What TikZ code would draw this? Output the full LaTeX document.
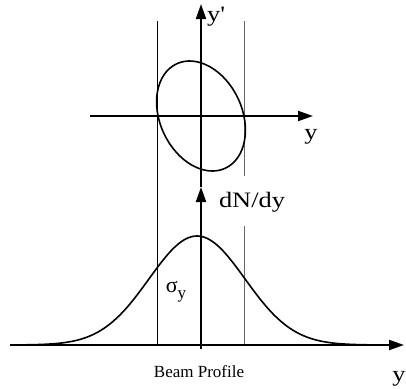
\documentclass[tikz,border=0pt]{standalone}
\usepackage{fontspec}
\setmainfont{Liberation Serif}
\newfontfamily\widefont[FakeStretch=1.2]{Liberation Serif}
\usetikzlibrary{arrows.meta}
\begin{document}
\begin{tikzpicture}[x=1pt,y=-1pt,
  axis/.style={line width=2pt,-{Triangle[length=15pt,width=10pt]}},
  guide/.style={line width=0.8pt},
  guidegray/.style={line width=1pt,draw=black!60},
  curve/.style={line width=1.6pt},
  lbl/.style={inner sep=0pt,font=\widefont\fontsize{22}{24}\selectfont},
  small/.style={inner sep=0pt,font=\fontsize{17}{19}\selectfont}]
\useasboundingbox (0,0) rectangle (406,388);
% coordinates
\coordinate (o1) at (201,116);
\coordinate (ux0) at (90,116);
\coordinate (ux1) at (313,116);
\coordinate (uy0) at (201,187);
\coordinate (uy1) at (201,4);
\coordinate (lx0) at (10,345);
\coordinate (lx1) at (404,345);
\coordinate (ly0) at (201,349);
\coordinate (ly1) at (201,187);
\coordinate (gl0) at (157,21);
\coordinate (gl1) at (157,345);
\coordinate (gr0) at (244,21);
\coordinate (gr1) at (244,176);
\coordinate (gr2) at (244,226);
\coordinate (gr3) at (244,345);
% guide lines
\draw[guide] (gl0) -- (gl1);
\draw[guidegray] (gr0) -- (gr1);
\draw[guidegray] (gr2) -- (gr3);
% phase-space ellipse
\draw[curve,rotate around={-65:(o1)}] (o1) ellipse [x radius=57.6pt, y radius=41pt];
% upper axes
\draw[axis] (ux0) -- (ux1);
\draw[axis] (uy0) -- (uy1);
% gaussian
\draw[curve] plot[domain=-180:190,samples=120,smooth] ({197+\x},{345-109*exp(-0.5*(\x/48)*(\x/48))});
% lower axes
\draw[axis] (lx0) -- (lx1);
\draw[axis] (ly0) -- (ly1);
% labels
\node[lbl,anchor=base west] (yp) at (207,21) {y\textquotesingle};
\node[lbl,anchor=base] (yu) at (311,139) {y};
\node[lbl,anchor=base] (dn) at (252,207) {dN/dy};
\node[lbl,anchor=base] (yl) at (399,381) {y};
\node[inner sep=0pt,anchor=base,font=\fontsize{22}{24}\selectfont] (sg) at (176,292) {σ\raisebox{-0.3em}{\fontsize{17}{18}\selectfont y}};
\node[small,anchor=base] (bp) at (199,377) {Beam Profile};
\end{tikzpicture}
\end{document}
